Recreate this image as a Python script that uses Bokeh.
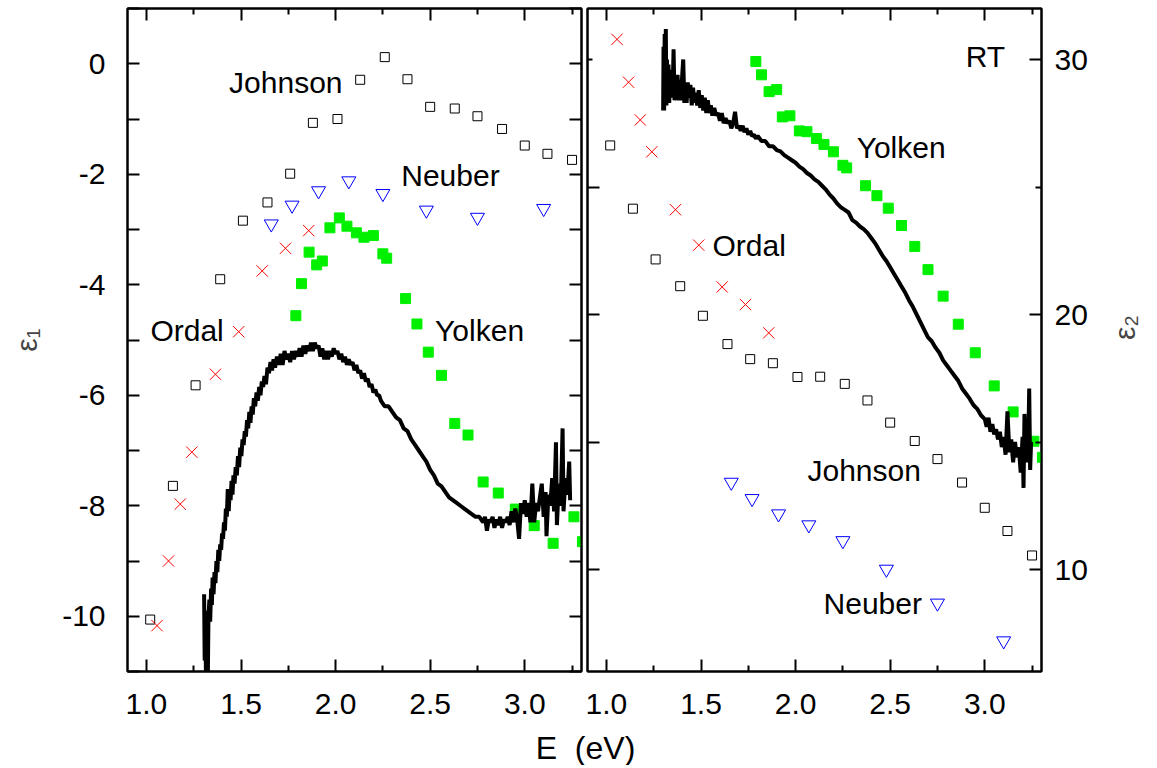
import math
from bokeh.plotting import figure
from bokeh.models import LinearAxis, FixedTicker, Label
from bokeh.layouts import row, column
from bokeh.embed import file_html
from bokeh.resources import INLINE
from bokeh.core.properties import value

# ---------------- data: epsilon_1 (left panel) ----------------
johnson_E = [1.02, 1.14, 1.26, 1.39, 1.51, 1.64, 1.76, 1.88, 2.01, 2.13, 2.26, 2.38, 2.50, 2.63, 2.75, 2.88, 3.00, 3.12, 3.25]
johnson_e1 = [-10.06, -7.64, -5.82, -3.90, -2.84, -2.51, -1.99, -1.07, -1.00, -0.29, 0.12, -0.28, -0.78, -0.81, -0.95, -1.18, -1.48, -1.63, -1.74]
johnson_e2 = [26.63, 24.15, 22.16, 21.11, 19.95, 18.84, 18.25, 18.09, 17.55, 17.56, 17.28, 16.63, 15.76, 15.04, 14.33, 13.41, 12.42, 11.51, 10.55]

ordal_E = [1.056, 1.117, 1.179, 1.240, 1.365, 1.488, 1.612, 1.735, 1.858]
ordal_e1 = [-10.17, -9.00, -7.97, -7.03, -5.62, -4.85, -3.75, -3.34, -3.02]
ordal_e2 = [30.79, 29.11, 27.63, 26.38, 24.11, 22.72, 21.08, 20.39, 19.28]

neuber_E = [1.66, 1.77, 1.91, 2.07, 2.25, 2.48, 2.75, 3.10]
neuber_e1 = [-2.90, -2.56, -2.30, -2.12, -2.35, -2.65, -2.78, -2.62]
neuber_e2 = [13.42, 12.78, 12.18, 11.75, 11.13, 10.01, 8.68, 7.20]

yolken_E = [1.79, 1.82, 1.86, 1.90, 1.93, 1.97, 2.02, 2.06, 2.11, 2.15, 2.20, 2.25, 2.27,
            2.37, 2.43, 2.49, 2.56, 2.63, 2.70, 2.78, 2.86, 2.95, 3.05, 3.15, 3.26, 3.305]
yolken_e1 = [-4.56, -3.98, -3.41, -3.64, -3.57, -2.97, -2.79, -2.94, -3.06, -3.14, -3.11, -3.44, -3.52,
             -4.25, -4.71, -5.22, -5.64, -6.51, -6.72, -7.57, -7.77, -8.06, -8.36, -8.68, -8.20, -8.65]
yolken_e2 = [29.92, 29.40, 28.74, 28.82, 27.75, 27.79, 27.20, 27.17, 26.90, 26.67, 26.38, 25.85, 25.75,
             25.05, 24.66, 24.17, 23.49, 22.67, 21.76, 20.72, 19.62, 18.50, 17.20, 16.18, 15.03, 14.40]

# measured curve, epsilon_1
meas1_E = [1.305, 1.308, 1.312, 1.316, 1.320, 1.324, 1.328, 1.333, 1.337, 1.342, 1.346, 1.350, 1.355, 1.360,
           1.365, 1.370, 1.375, 1.380, 1.385, 1.390, 1.395, 1.400, 1.405, 1.410, 1.415, 1.420, 1.425, 1.430,
           1.435, 1.440, 1.445, 1.450, 1.455, 1.460, 1.466, 1.472, 1.478, 1.484, 1.490, 1.496, 1.502, 1.508,
           1.514, 1.520, 1.526, 1.532, 1.538, 1.544, 1.550, 1.556, 1.562, 1.568, 1.575, 1.582, 1.589, 1.596,
           1.603, 1.610, 1.617, 1.624, 1.632, 1.640, 1.648, 1.656, 1.664, 1.672, 1.680, 1.690, 1.700, 1.710,
           1.720, 1.730, 1.740, 1.750, 1.760, 1.770, 1.780, 1.790, 1.800, 1.810, 1.820, 1.830, 1.840, 1.850,
           1.860, 1.870, 1.880, 1.890, 1.900, 1.910, 1.920, 1.930, 1.940, 1.950, 1.960, 1.970, 1.980, 1.990,
           2.000, 2.010, 2.020, 2.030, 2.040, 2.050, 2.060, 2.070, 2.080, 2.090, 2.100, 2.110, 2.120, 2.130,
           2.140, 2.150, 2.160, 2.170, 2.180, 2.190, 2.200, 2.210, 2.220, 2.230, 2.240, 2.260, 2.280, 2.300,
           2.320, 2.340, 2.360, 2.380, 2.400, 2.420, 2.440, 2.460, 2.480, 2.500, 2.520, 2.540, 2.560, 2.580,
           2.600, 2.620, 2.640, 2.660, 2.680, 2.700, 2.720, 2.740, 2.760, 2.780, 2.790, 2.800, 2.810, 2.820,
           2.830, 2.840, 2.850, 2.860, 2.870, 2.880, 2.890, 2.900, 2.910, 2.920, 2.930, 2.940, 2.950, 2.960,
           2.970, 2.980, 2.990, 3.000, 3.010, 3.020, 3.030, 3.040, 3.050, 3.060, 3.070, 3.080, 3.090, 3.100,
           3.110, 3.115, 3.125, 3.135, 3.145, 3.155, 3.165, 3.170, 3.180, 3.190, 3.195, 3.200, 3.205, 3.215,
           3.225, 3.235, 3.240]
meas1_e1 = [-9.6, -10.8, -10.2, -11.5, -9.9, -11.3, -10.0, -9.7, -10.1, -9.5, -9.8, -9.3, -9.6, -9.2,
            -9.4, -9.0, -9.2, -8.8, -9.0, -8.7, -8.8, -8.5, -8.6, -8.3, -8.45, -8.05, -8.2, -7.7,
            -8.1, -7.75, -7.9, -7.55, -7.8, -7.45, -7.6, -7.3, -7.45, -7.1, -7.3, -6.95, -7.1, -6.8,
            -6.9, -6.65, -6.75, -6.45, -6.6, -6.3, -6.5, -6.2, -6.35, -6.05, -6.2, -5.95, -6.1, -5.85,
            -6.0, -5.75, -5.85, -5.65, -5.8, -5.5, -5.6, -5.4, -5.55, -5.35, -5.5, -5.3, -5.45, -5.25,
            -5.45, -5.2, -5.35, -5.25, -5.4, -5.2, -5.35, -5.2, -5.3, -5.15, -5.3, -5.1, -5.25, -5.1,
            -5.2, -5.05, -5.2, -5.05, -5.15, -5.1, -5.3, -5.15, -5.35, -5.2, -5.35, -5.2, -5.3, -5.15,
            -5.25, -5.2, -5.35, -5.25, -5.4, -5.3, -5.45, -5.35, -5.45, -5.4, -5.55, -5.45, -5.6, -5.55,
            -5.7, -5.6, -5.75, -5.7, -5.85, -5.8, -5.95, -5.9, -6.0, -6.0, -6.1, -6.2, -6.2, -6.3,
            -6.4, -6.45, -6.6, -6.65, -6.8, -6.9, -7.0, -7.1, -7.2, -7.35, -7.45, -7.6, -7.65, -7.75,
            -7.85, -7.9, -7.95, -8.0, -8.05, -8.1, -8.15, -8.2, -8.2, -8.3, -8.2, -8.45, -8.25, -8.3,
            -8.2, -8.4, -8.25, -8.35, -8.2, -8.4, -8.25, -8.3, -8.2, -8.35, -8.1, -8.3, -8.05, -8.25,
            -8.6, -7.95, -8.15, -7.9, -8.2, -7.95, -8.3, -7.6, -8.3, -7.95, -8.1, -7.85, -7.6, -8.2,
            -7.75, -8.55, -7.8, -8.0, -7.5, -8.1, -6.85, -8.35, -7.6, -8.0, -7.3, -6.6, -8.1, -7.5,
            -7.8, -7.2, -7.9]

# measured curve, epsilon_2
meas2_E = [1.300, 1.302, 1.305, 1.308, 1.311, 1.314, 1.317, 1.320, 1.324, 1.328, 1.332, 1.336, 1.340, 1.345,
           1.350, 1.355, 1.360, 1.365, 1.370, 1.376, 1.382, 1.388, 1.394, 1.400, 1.406, 1.412, 1.418, 1.424,
           1.430, 1.437, 1.444, 1.451, 1.458, 1.465, 1.472, 1.480, 1.488, 1.496, 1.504, 1.512, 1.520, 1.528,
           1.536, 1.544, 1.552, 1.560, 1.570, 1.580, 1.590, 1.600, 1.610, 1.620, 1.630, 1.640, 1.650, 1.660,
           1.670, 1.680, 1.690, 1.700, 1.710, 1.720, 1.730, 1.740, 1.750, 1.760, 1.770, 1.780, 1.790, 1.800,
           1.820, 1.840, 1.860, 1.880, 1.900, 1.920, 1.940, 1.960, 1.980, 2.000, 2.020, 2.040, 2.060, 2.080,
           2.100, 2.120, 2.140, 2.160, 2.180, 2.200, 2.220, 2.240, 2.260, 2.280, 2.300, 2.320, 2.340, 2.360,
           2.380, 2.400, 2.420, 2.440, 2.460, 2.480, 2.500, 2.520, 2.540, 2.560, 2.580, 2.600, 2.620, 2.640,
           2.660, 2.680, 2.700, 2.720, 2.740, 2.760, 2.780, 2.800, 2.820, 2.840, 2.860, 2.880, 2.900, 2.920,
           2.940, 2.960, 2.980, 3.000, 3.010, 3.020, 3.030, 3.040, 3.050, 3.060, 3.070, 3.080, 3.090, 3.100,
           3.110, 3.120, 3.130, 3.140, 3.150, 3.160, 3.170, 3.180, 3.190, 3.200, 3.205, 3.210, 3.220, 3.230,
           3.235, 3.240, 3.245]
meas2_e2 = [28.0, 30.5, 28.0, 31.0, 28.4, 31.2, 28.2, 30.0, 28.6, 29.8, 28.3, 29.3, 28.5, 29.6,
            28.7, 30.4, 28.4, 29.3, 28.6, 29.4, 28.4, 29.2, 28.4, 29.3, 30.0, 28.3, 29.0, 28.3,
            29.1, 28.5, 29.0, 28.2, 28.9, 28.3, 28.7, 28.2, 28.8, 28.1, 28.6, 28.0, 28.5, 27.9,
            28.4, 27.9, 28.2, 27.8, 28.1, 27.8, 27.9, 27.6, 27.9, 27.5, 27.7, 27.5, 27.6, 27.3,
            27.5, 27.95, 27.3, 27.4, 27.2, 27.4, 27.15, 27.3, 27.05, 27.2, 27.0, 27.05, 26.9, 27.0,
            26.8, 26.8, 26.6, 26.6, 26.45, 26.4, 26.25, 26.15, 26.05, 25.95, 25.8, 25.7, 25.55, 25.45,
            25.3, 25.2, 25.05, 24.9, 24.7, 24.55, 24.35, 24.2, 24.1, 24.0, 23.7, 23.6, 23.45, 23.35,
            23.2, 23.0, 22.8, 22.55, 22.3, 22.1, 21.85, 21.6, 21.35, 21.1, 20.85, 20.55, 20.3, 20.0,
            19.7, 19.4, 19.1, 18.95, 18.7, 18.5, 18.2, 18.0, 17.8, 17.6, 17.4, 17.1, 16.9, 16.7,
            16.45, 16.3, 16.05, 15.9, 15.6, 15.95, 15.4, 15.7, 15.3, 15.5, 15.1, 15.4, 14.8, 15.2,
            14.5, 16.2, 14.6, 15.1, 14.2, 15.0, 14.4, 14.8, 13.8, 15.2, 13.2, 16.1, 14.2, 14.9,
            17.1, 13.9, 15.0]

# axis ticks and tick labels
x_ticks = [1.0, 1.5, 2.0, 2.5, 3.0]
x_tick_labels = ["1.0", "1.5", "2.0", "2.5", "3.0"]
x_minor = [1.25, 1.75, 2.25, 2.75, 3.25]
e1_ticks = [-10, -8, -6, -4, -2, 0]
e1_tick_labels = ["-10", "-8", "-6", "-4", "-2", "0"]
e1_minor = [-11, -9, -7, -5, -3, -1, 1]
e2_ticks = [10, 20, 30]
e2_tick_labels = ["10", "20", "30"]
e2_minor = [15, 25]

# annotation texts (anchor in data coords)
left_names = ["Johnson", "Neuber", "Ordal", "Yolken"]
left_name_E = [1.437, 2.347, 1.021, 2.526]
left_name_v = [-0.34, -2.03, -4.83, -4.83]
right_names = ["RT", "Yolken", "Ordal", "Johnson", "Neuber"]
right_name_E = [2.899, 2.323, 1.561, 2.063, 2.148]
right_name_v = [30.11, 26.55, 22.72, 13.88, 8.67]

FONT = "Liberation Sans"
TICK_FS = "30px"
NAME_FS = "30px"
GREEN = "#00f000"


def style_axis(ax, ticks, minor, major_in, minor_in, labels=None, standoff=12):
    ax.ticker = FixedTicker(ticks=ticks, minor_ticks=minor)
    ax.major_tick_in = major_in
    ax.major_tick_out = 0
    ax.minor_tick_in = minor_in
    ax.minor_tick_out = 0
    ax.major_tick_line_width = 2
    ax.minor_tick_line_width = 2
    ax.major_tick_line_color = "black"
    ax.minor_tick_line_color = "black"
    ax.axis_line_width = 2
    ax.axis_line_color = "black"
    if labels is not None:
        ax.major_label_overrides = {t: s for t, s in zip(ticks, labels)}
        ax.major_label_text_font = FONT
        ax.major_label_text_font_size = TICK_FS
        ax.major_label_text_color = "black"
        ax.major_label_standoff = standoff
    else:
        ax.major_label_text_font_size = "0px"
        ax.major_label_standoff = 0
        ax.major_label_text_color = None


def base_fig(y_range, y_loc, border_left, border_right):
    p = figure(frame_width=454, frame_height=663, x_range=(0.9, 3.3), y_range=y_range,
               output_backend="svg", toolbar_location=None, y_axis_location=y_loc,
               min_border_left=border_left, min_border_right=border_right,
               min_border_top=8, min_border_bottom=56)
    p.xgrid.grid_line_color = None
    p.ygrid.grid_line_color = None
    p.outline_line_color = "black"
    p.outline_line_width = 2
    p.background_fill_color = "white"
    p.border_fill_color = "white"
    return p


# ---------------- left panel ----------------
p1 = base_fig((-11, 1), "left", 127, 3)
style_axis(p1.xaxis[0], x_ticks, x_minor, 12, 6, x_tick_labels, 22)
style_axis(p1.yaxis[0], e1_ticks, e1_minor, 12, 12, e1_tick_labels, 22)
p1.yaxis[0].axis_label = "ε₁"
p1.yaxis[0].axis_label_text_font = FONT
p1.yaxis[0].axis_label_text_font_size = "30px"
p1.yaxis[0].axis_label_text_font_style = "normal"
p1.yaxis[0].axis_label_standoff = 16
top1 = LinearAxis()
style_axis(top1, x_ticks, x_minor, 12, 6)
p1.add_layout(top1, "above")
right1 = LinearAxis()
style_axis(right1, e1_ticks, e1_minor, 12, 12)
p1.add_layout(right1, "right")

p1.scatter(johnson_E, johnson_e1, marker="square", size=9, fill_color=None, line_color="black", line_width=1)
p1.scatter(ordal_E, ordal_e1, marker="x", size=16, line_color="red", line_width=1)
p1.scatter(neuber_E, neuber_e1, marker="inverted_triangle", size=14, fill_color=None, line_color="blue", line_width=1)
p1.scatter(yolken_E, yolken_e1, marker="square", size=10, fill_color=GREEN, line_color=GREEN)
p1.line(meas1_E, meas1_e1, line_color="black", line_width=4)
p1.text(left_name_E, left_name_v, text=left_names, text_font=value(FONT), text_font_size=NAME_FS,
        text_align="left", text_baseline="middle", text_color="black")

# ---------------- right panel ----------------
p2 = base_fig((6, 32), "right", 3, 116)
style_axis(p2.xaxis[0], x_ticks, x_minor, 12, 6, x_tick_labels, 22)
style_axis(p2.yaxis[0], e2_ticks, e2_minor, 12, 6, e2_tick_labels, 13)
p2.yaxis[0].axis_label = "ε₂"
p2.yaxis[0].axis_label_text_font = FONT
p2.yaxis[0].axis_label_text_font_size = "30px"
p2.yaxis[0].axis_label_text_font_style = "normal"
p2.yaxis[0].axis_label_standoff = 34
p2.yaxis[0].axis_label_orientation = math.pi / 2
top2 = LinearAxis()
style_axis(top2, x_ticks, x_minor, 12, 6)
p2.add_layout(top2, "above")
left2 = LinearAxis()
style_axis(left2, [10, 15, 20, 25], [30], 12, 5)
p2.add_layout(left2, "left")

p2.scatter(johnson_E, johnson_e2, marker="square", size=9, fill_color=None, line_color="black", line_width=1)
p2.scatter(ordal_E, ordal_e2, marker="x", size=16, line_color="red", line_width=1)
p2.scatter(neuber_E, neuber_e2, marker="inverted_triangle", size=14, fill_color=None, line_color="blue", line_width=1)
p2.scatter(yolken_E, yolken_e2, marker="square", size=10, fill_color=GREEN, line_color=GREEN)
p2.line(meas2_E, meas2_e2, line_color="black", line_width=4)
p2.text(right_name_E, right_name_v, text=right_names, text_font=value(FONT), text_font_size=NAME_FS,
        text_align="left", text_baseline="middle", text_color="black")

# ---------------- shared x label ----------------
p3 = figure(width=1150, height=38, x_range=(0, 1), y_range=(0, 1), output_backend="svg",
            toolbar_location=None, x_axis_type=None, y_axis_type=None,
            min_border=0, outline_line_color=None)
p3.xgrid.grid_line_color = None
p3.ygrid.grid_line_color = None
p3.add_layout(Label(x=585, y=18, x_units="screen", y_units="screen", text="E\u00a0\u00a0(eV)",
                    text_font=FONT, text_font_size="32px", text_align="center",
                    text_baseline="middle", text_color="black"))

layout = column(row(p1, p2), p3)
open("out.html", "w").write(file_html(layout, INLINE))
